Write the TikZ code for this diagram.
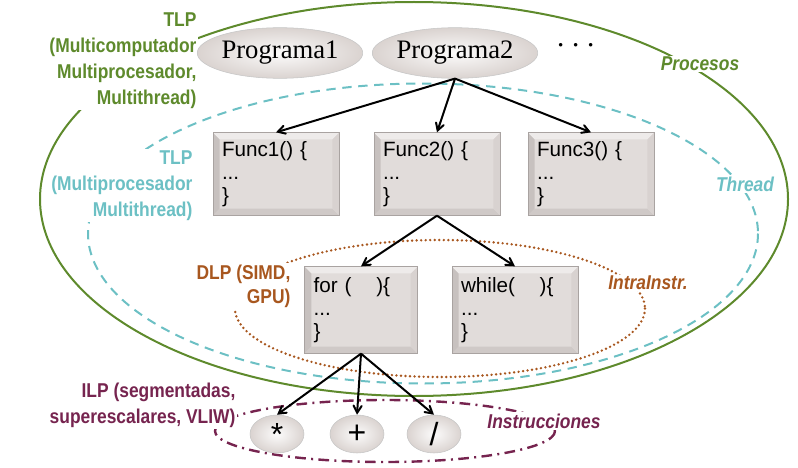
\documentclass[tikz,border=0pt]{standalone}
\usepackage{fontspec}
\setmainfont{Liberation Serif}
\setsansfont{Liberation Sans}
\newfontfamily\lblfont[FakeStretch=0.87]{Liberation Sans}
\usetikzlibrary{arrows,shapes.geometric}

\definecolor{procgreen}{HTML}{5E8A2C}
\definecolor{threadcyan}{HTML}{6CC0C4}
\definecolor{intrabrown}{HTML}{A8571F}
\definecolor{instrmaroon}{HTML}{76244F}
\definecolor{boxface}{HTML}{E1DCDA}
\definecolor{boxleft}{HTML}{C7C1BF}
\definecolor{boxbottom}{HTML}{CFC9C7}
\definecolor{boxtop}{HTML}{EEEBEA}
\definecolor{boxright}{HTML}{D8D2D0}
\definecolor{boxline}{HTML}{A9A3A1}
\definecolor{ovalfill}{HTML}{DAD3D0}

\newcommand{\ppb}{path picture bounding box}

\begin{document}
\begin{tikzpicture}[x=0.75pt,y=-0.75pt,>=angle 60,
	codebox/.style={rectangle, draw=boxline, line width=0.5pt, fill=boxface,
		align=left, inner xsep=6.75pt, minimum height=62pt,
		font=\sffamily\fontsize{15.5}{17.5}\selectfont,
		path picture={
			\fill[boxleft] (\ppb.north west) -- ([shift={(5pt,-5pt)}]\ppb.north west)
				-- ([shift={(5pt,5pt)}]\ppb.south west) -- (\ppb.south west) -- cycle;
			\fill[boxbottom] (\ppb.south west) -- ([shift={(5pt,5pt)}]\ppb.south west)
				-- ([shift={(-5pt,5pt)}]\ppb.south east) -- (\ppb.south east) -- cycle;
			\fill[boxright] (\ppb.south east) -- ([shift={(-5pt,5pt)}]\ppb.south east)
				-- ([shift={(-5pt,-5pt)}]\ppb.north east) -- (\ppb.north east) -- cycle;
			\fill[boxtop] (\ppb.north east) -- ([shift={(-5pt,-5pt)}]\ppb.north east)
				-- ([shift={(5pt,-5pt)}]\ppb.north west) -- (\ppb.north west) -- cycle;
		}},
	oval/.style={ellipse, draw=gray!45, line width=0.4pt, inner sep=0pt,
		shade, shading=radial, inner color=white!92!ovalfill, outer color=ovalfill},
	progoval/.style={oval, minimum width=109.5pt, minimum height=38pt,
		font=\rmfamily\fontsize{20}{20}\selectfont},
	opoval/.style={oval, minimum width=40.5pt, minimum height=28.5pt,
		font=\sffamily\fontsize{24}{24}\selectfont},
	lbl/.style={fill=white, inner sep=1pt, align=right, anchor=north east,
		font=\lblfont\bfseries\fontsize{15}{19.5}\selectfont},
	tag/.style={fill=white, inner sep=1pt,
		font=\lblfont\bfseries\itshape\fontsize{15}{19.5}\selectfont},
	arr/.style={->, line width=1.5pt, black}]
	\useasboundingbox (0,0) rectangle (798,467);

	\draw[intrabrown, line width=2pt, line cap=round, dash pattern=on 0pt off 3.4pt]
		(440,308.5) ellipse [x radius=205, y radius=68.5];
	\draw[threadcyan, line width=1.5pt, dash pattern=on 7pt off 5pt]
		(423,233.5) ellipse [x radius=335, y radius=150];
	\node[lbl, text=threadcyan] (tlpthread) at (194,149) {TLP\\(Multiprocesador\\Multithread)};
	\node[tag, text=threadcyan] (thread) at (745,184) {Thread};

	\draw[procgreen, line width=1.5pt] (414,199) ellipse [x radius=374, y radius=197];
	\node[lbl, text=procgreen] (tlpproc) at (198,11) {TLP\\(Multicomputador\\Multiprocesador,\\Multithread)};
	\node[tag, text=procgreen] (procesos) at (700,64) {Procesos};

	\node[lbl, text=intrabrown, font=\lblfont\bfseries\fontsize{15}{18}\selectfont] (dlp) at (292,263) {DLP (SIMD,\\GPU)};
	\node[tag, text=intrabrown] (intra) at (648,283) {IntraInstr.};

	\draw[instrmaroon, line width=1.8pt, dash pattern=on 8pt off 4pt on 1.5pt off 4pt]
		(385,431) ellipse [x radius=170, y radius=31];
	\node[lbl, text=instrmaroon] (ilp) at (237,381) {ILP (segmentadas,\\superescalares, VLIW)};
	\node[tag, text=instrmaroon] (instr) at (544,421) {Instrucciones};

	\node[progoval] (prog1) at (280,53) {Programa1};
	\node[progoval] (prog2) at (455,53) {Programa2};
	\node[font=\fontsize{24}{24}\selectfont] (dots) at (576,46) {$\cdots$};

	\node[codebox, text width=81pt] (func1) at (276,174) {Func1() \{\\...\\\}};
	\node[codebox, text width=81pt] (func2) at (437,174) {Func2() \{\\...\\\}};
	\node[codebox, text width=81pt] (func3) at (591,174) {Func3() \{\\...\\\}};

	\node[codebox, text width=71pt, minimum height=65pt] (forloop) at (361,310) {for (\hspace*{1.2em})\{\\...\\\}};
	\node[codebox, text width=81pt, minimum height=65pt] (whileloop) at (515,310) {while(\hspace*{1.2em})\{\\...\\\}};

	\node[opoval] (mul) at (277,434) {*};
	\node[opoval] (add) at (357,434) {+};
	\node[opoval] (dvd) at (434,434) {/};

	\draw[arr] (prog2.south)--(func1.north);
	\draw[arr] (prog2.south)--(func2.north);
	\draw[arr] (prog2.south)--(func3.north);
	\draw[arr] (func2.south)--(forloop.north);
	\draw[arr] (func2.south)--(whileloop.north);
	\draw[arr] (forloop.south)--(mul.north);
	\draw[arr] (forloop.south)--(add.north);
	\draw[arr] (forloop.south)--(dvd.north);
\end{tikzpicture}
\end{document}
